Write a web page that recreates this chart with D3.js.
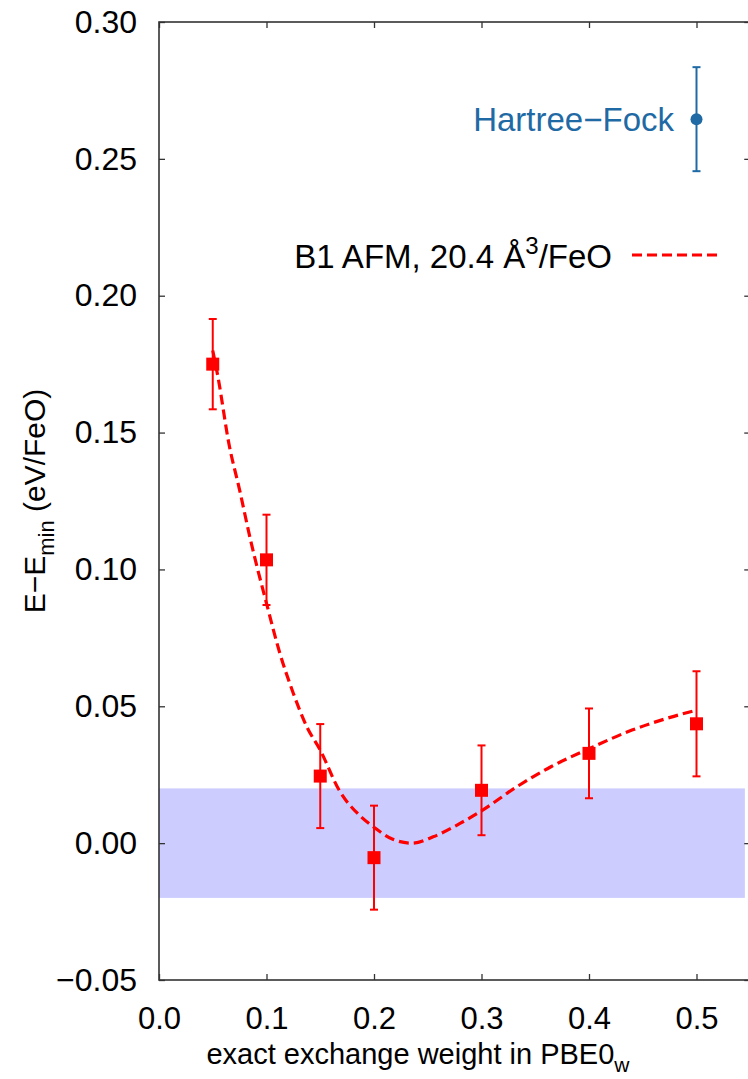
<!DOCTYPE html>
<html>
<head>
<meta charset="utf-8">
<script src="https://cdn.jsdelivr.net/npm/d3@7"></script>
<style>
  body { margin: 0; background: #fff; }
  text { font-family: "Liberation Sans", Arial, sans-serif; }
</style>
</head>
<body>
<div id="chart"></div>
<script>
// measured points (B1 AFM)
var xs = [0.05, 0.10, 0.15, 0.20, 0.30, 0.40, 0.50];
var ys = [0.175, 0.1035, 0.0245, -0.0053, 0.0193, 0.0328, 0.0436];
var errs = [0.0165, 0.0165, 0.019, 0.019, 0.0164, 0.0164, 0.0192];

// fitted curve
var fitX = [0.05, 0.055, 0.065, 0.075, 0.085, 0.10, 0.1125, 0.125, 0.1375, 0.15, 0.1675, 0.1875, 0.20, 0.2175, 0.235, 0.255, 0.28, 0.30, 0.3325, 0.365, 0.40, 0.44, 0.4725, 0.50];
var fitY = [0.180, 0.170, 0.146, 0.129, 0.111, 0.0876, 0.0693, 0.0547, 0.0425, 0.034, 0.0194, 0.0098, 0.0058, 0.0014, 0.0, 0.0023, 0.0072, 0.0118, 0.0205, 0.028, 0.0345, 0.0413, 0.0456, 0.0486];

// Hartree-Fock
var hfX = 0.5, hfY = 0.2645, hfErr = 0.019;

// tolerance band
var band = [-0.02, 0.02];
var bandX = [0, 0.545];

var xTicks = [0.0, 0.1, 0.2, 0.3, 0.4, 0.5];
var yTicks = [-0.05, 0.0, 0.05, 0.10, 0.15, 0.20, 0.25, 0.30];

var w = 748, h = 1079;
var svg = d3.select("#chart").append("svg")
    .attr("width", w).attr("height", h);

var x = d3.scaleLinear().domain([0, 0.55]).range([159, 750.25]);
var y = d3.scaleLinear().domain([-0.05, 0.30]).range([980, 22]);

var fsize = 30;

// band
svg.append("rect")
    .attr("x", x(bandX[0])).attr("width", x(bandX[1]) - x(bandX[0]))
    .attr("y", y(band[1])).attr("height", y(band[0]) - y(band[1]))
    .attr("fill", "#ccccff");

// frame + ticks
var axisCol = "#333";
function styleAxis(g) {
    g.select(".domain").remove();
    g.selectAll(".tick line").attr("stroke", axisCol).attr("stroke-width", 1.3);
    g.selectAll(".tick text").attr("fill", "#000").style("font-size", "32px")
        .style("font-family", "'Liberation Sans', Arial, sans-serif");
}
var fmtY = function (d) { return d3.format(".2f")(d).replace("-", "\u2212"); };

svg.append("g").attr("transform", "translate(" + x(0) + ",0)")
    .call(d3.axisLeft(y).tickValues(yTicks).tickSize(-6).tickPadding(22).tickFormat(fmtY))
    .call(styleAxis);
svg.append("g").attr("transform", "translate(" + x(0.55) + ",0)")
    .call(d3.axisRight(y).tickValues(yTicks).tickSize(-6).tickFormat(""))
    .call(styleAxis);
var gx = svg.append("g").attr("transform", "translate(0," + y(-0.05) + ")")
    .call(d3.axisBottom(x).tickValues(xTicks).tickSize(-6).tickPadding(27).tickFormat(d3.format(".1f")))
    .call(styleAxis);
gx.selectAll(".tick text").style("font-size", "31px");
svg.append("g").attr("transform", "translate(0," + y(0.30) + ")")
    .call(d3.axisTop(x).tickValues(xTicks).tickSize(-6).tickFormat(""))
    .call(styleAxis);

svg.append("rect")
    .attr("x", x(0)).attr("y", y(0.30))
    .attr("width", x(0.55) - x(0)).attr("height", y(-0.05) - y(0.30))
    .attr("fill", "none").attr("stroke", axisCol).attr("stroke-width", 1.6);

// fitted curve
var fit = fitX.map(function (d, i) { return [d, fitY[i]]; });
var line = d3.line()
    .x(function (d) { return x(d[0]); })
    .y(function (d) { return y(d[1]); })
    .curve(d3.curveMonotoneX);
svg.append("path").datum(fit)
    .attr("d", line)
    .attr("fill", "none").attr("stroke", "#ff0000")
    .attr("stroke-width", 3.2).attr("stroke-dasharray", "10,5");

// error bars
var pts = xs.map(function (d, i) { return {x: d, y: ys[i], e: errs[i]}; });
var eb = svg.append("g").attr("stroke", "#ff0000").attr("stroke-width", 2);
eb.selectAll(".v").data(pts).enter().append("line")
    .attr("x1", function (d) { return x(d.x); }).attr("x2", function (d) { return x(d.x); })
    .attr("y1", function (d) { return y(d.y + d.e); }).attr("y2", function (d) { return y(d.y - d.e); });
eb.selectAll(".t").data(pts).enter().append("line")
    .attr("x1", function (d) { return x(d.x) - 4; }).attr("x2", function (d) { return x(d.x) + 4; })
    .attr("y1", function (d) { return y(d.y + d.e); }).attr("y2", function (d) { return y(d.y + d.e); });
eb.selectAll(".b").data(pts).enter().append("line")
    .attr("x1", function (d) { return x(d.x) - 4; }).attr("x2", function (d) { return x(d.x) + 4; })
    .attr("y1", function (d) { return y(d.y - d.e); }).attr("y2", function (d) { return y(d.y - d.e); });

svg.selectAll(".sq").data(pts).enter().append("rect")
    .attr("x", function (d) { return x(d.x) - 6.5; })
    .attr("y", function (d) { return y(d.y) - 6.5; })
    .attr("width", 13).attr("height", 13)
    .attr("fill", "#ff0000");

// Hartree-Fock point
var hfCol = "#1f6aa5";
var hf = svg.append("g").attr("stroke", hfCol).attr("stroke-width", 2);
hf.append("line").attr("x1", x(hfX)).attr("x2", x(hfX)).attr("y1", y(hfY + hfErr)).attr("y2", y(hfY - hfErr));
hf.append("line").attr("x1", x(hfX) - 4).attr("x2", x(hfX) + 4).attr("y1", y(hfY + hfErr)).attr("y2", y(hfY + hfErr));
hf.append("line").attr("x1", x(hfX) - 4).attr("x2", x(hfX) + 4).attr("y1", y(hfY - hfErr)).attr("y2", y(hfY - hfErr));
svg.append("circle").attr("cx", x(hfX)).attr("cy", y(hfY)).attr("r", 6).attr("fill", hfCol);
svg.append("text").attr("x", 674).attr("y", 131)
    .attr("text-anchor", "end").attr("fill", hfCol)
    .style("font-size", "33px").text("Hartree\u2212Fock");

// legend
var leg = svg.append("text").attr("x", 612).attr("y", 268)
    .attr("text-anchor", "end").style("font-size", "33px");
leg.append("tspan").text("B1 AFM, 20.4 \u00c5");
leg.append("tspan").attr("dy", -14).style("font-size", "24px").text("3");
leg.append("tspan").attr("dy", 14).text("/FeO");
svg.append("line").attr("x1", 632).attr("x2", 717).attr("y1", 255).attr("y2", 255)
    .attr("stroke", "#ff0000").attr("stroke-width", 3.2).attr("stroke-dasharray", "10,5");

// axis titles
var xl = svg.append("text").attr("x", 418).attr("y", 1064)
    .attr("text-anchor", "middle").style("font-size", "29px");
xl.append("tspan").text("exact exchange weight in PBE0");
xl.append("tspan").attr("dy", 8).style("font-size", "21px").text("w");

var yl = svg.append("text")
    .attr("transform", "translate(45," + y(0.125) + ") rotate(-90)")
    .attr("text-anchor", "middle").style("font-size", fsize + "px");
yl.append("tspan").text("E\u2212E");
yl.append("tspan").attr("dy", 9).style("font-size", "22px").text("min");
yl.append("tspan").attr("dy", -9).text(" (eV/FeO)");
</script>
</body>
</html>
